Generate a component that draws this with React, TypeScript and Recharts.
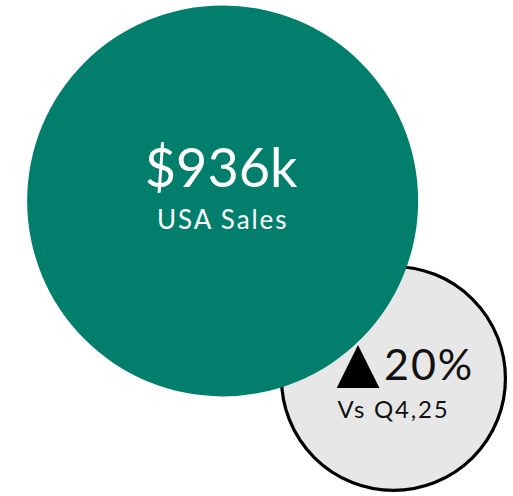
import React from "react";
import { ScatterChart, Scatter, XAxis, YAxis, ZAxis } from "recharts";

// Bubble data (position on a 0-100 grid, size value)
const bubbleKeys = ["vsPrior", "usaSales"];
const bubbleX = [76.7, 43.4];
const bubbleY = [23.7, 59.5];
const bubbleZ = [307, 936];
const headlineLabels = ["20%", "$936k"];
const subLabels = ["Vs Q4,25", "USA Sales"];
const trendMarks = ["▲", ""];

const data = bubbleKeys.map((key, i) => ({
  key,
  x: bubbleX[i],
  y: bubbleY[i],
  z: bubbleZ[i],
  headline: headlineLabels[i],
  sub: subLabels[i],
  trend: trendMarks[i],
}));

const FONT = "Lato, 'Open Sans', sans-serif";

const ChangeBubble = (props: any) => {
  const { cx, cy, size, payload } = props;
  const r = Math.sqrt(size / Math.PI);
  return (
    <g>
      <circle cx={cx} cy={cy} r={r} fill="#E7E7E7" stroke="#000" strokeWidth={3.2} />
      <text x={cx - 14} y={cy + 3} textAnchor="end" fontFamily="'DejaVu Sans', sans-serif" fontSize={56} fill="#000">
        {payload.trend}
      </text>
      <text x={cx - 9.5} y={cy + 2} textAnchor="start" fontFamily={FONT} fontSize={43} fill="#111" style={{ letterSpacing: 2 }}>
        {payload.headline}
      </text>
      <text x={cx} y={cy + 39.5} textAnchor="middle" fontFamily={FONT} fontSize={24} fill="#111" style={{ letterSpacing: 1.8 }}>
        {payload.sub}
      </text>
    </g>
  );
};

const SalesBubble = (props: any) => {
  const { cx, cy, size, payload } = props;
  const r = Math.sqrt(size / Math.PI);
  return (
    <g>
      <circle cx={cx} cy={cy} r={r} fill="#017F6C" />
      <text x={cx - 1.5} y={cy - 14} textAnchor="middle" fontFamily={FONT} fontSize={54} fill="#fff">
        {payload.headline}
      </text>
      <text x={cx} y={cy + 28} textAnchor="middle" fontFamily={FONT} fontSize={26} fill="#fff" style={{ letterSpacing: 1.9 }}>
        {payload.sub}
      </text>
    </g>
  );
};

export default function App() {
  return (
    <div style={{ position: "absolute", left: 0, top: 0, width: 513, height: 496, background: "#fff" }}>
      <ScatterChart width={513} height={496} margin={{ top: 0, right: 0, bottom: 0, left: 0 }}>
        <XAxis type="number" dataKey="x" domain={[0, 100]} hide />
        <YAxis type="number" dataKey="y" domain={[0, 100]} hide />
        <ZAxis type="number" dataKey="z" domain={[0, 936]} range={[0, 120072]} />
        <Scatter data={data.filter((d) => d.key === "vsPrior")} shape={ChangeBubble} isAnimationActive={false} />
        <Scatter data={data.filter((d) => d.key === "usaSales")} shape={SalesBubble} isAnimationActive={false} />
      </ScatterChart>
    </div>
  );
}
